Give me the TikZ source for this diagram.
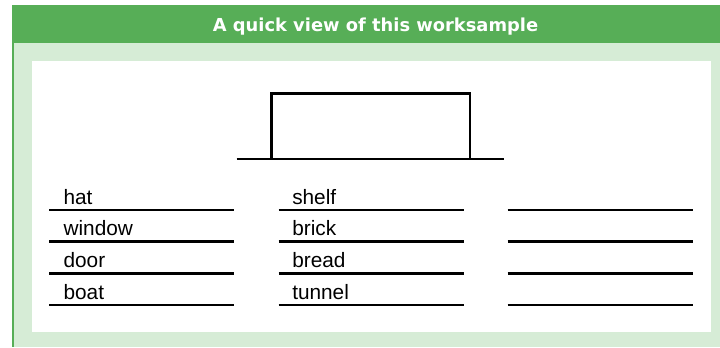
\documentclass[tikz,border=0pt]{standalone}
\usepackage{fontspec}
\setmainfont{Liberation Sans}
\newfontfamily\headfont{DejaVu Sans}
\definecolor{headgreen}{RGB}{87,174,87}
\definecolor{palegreen}{RGB}{214,236,214}

\begin{document}
\begin{tikzpicture}[x=0.75pt,y=0.75pt,yscale=-1,xscale=1,
  rule/.style={line width=1.9},
  word/.style={anchor=base west,inner sep=0pt,font=\fontsize{15.6}{18}\selectfont}]
	\useasboundingbox (0,0) rectangle (720,347);
	\fill [white] (0,0) rectangle (720,347);
	\fill [palegreen] (12,43) rectangle (720,347);
	\fill [headgreen] (12,5) rectangle (720,43);
	\draw [headgreen,line width=1.5] (13,43) -- (13,347);
	\fill [white] (32,61) rectangle (711,332);
	\node (title) [anchor=base,inner sep=0pt,text=white,font=\headfont\bfseries\fontsize{13.4}{16}\selectfont] at (375.5,31.7) {A quick view of this worksample};
	% box on its base line
	\draw [rule] (271.7,159) -- (271.7,93.3) -- (470,93.3) -- (470,159) ;
	\draw [rule] (236.7,159) -- (504,159) ;
	% answer lines
	\foreach \y in {210,241.7,273.3,305} {
		\draw [rule] (49,\y) -- (234,\y) ;
		\draw [rule] (278.7,\y) -- (464,\y) ;
		\draw [rule] (507.7,\y) -- (693.3,\y) ;
	}
	\node (hat) [word] at (63.3,204) {hat};
	\node (window) [word] at (63.3,235.7) {window};
	\node (door) [word] at (63.3,267.3) {door};
	\node (boat) [word] at (63.3,299) {boat};
	\node (shelf) [word] at (292,204) {shelf};
	\node (brick) [word] at (292,235.7) {brick};
	\node (bread) [word] at (292,267.3) {bread};
	\node (tunnel) [word] at (292,299) {tunnel};
\end{tikzpicture}
\end{document}
